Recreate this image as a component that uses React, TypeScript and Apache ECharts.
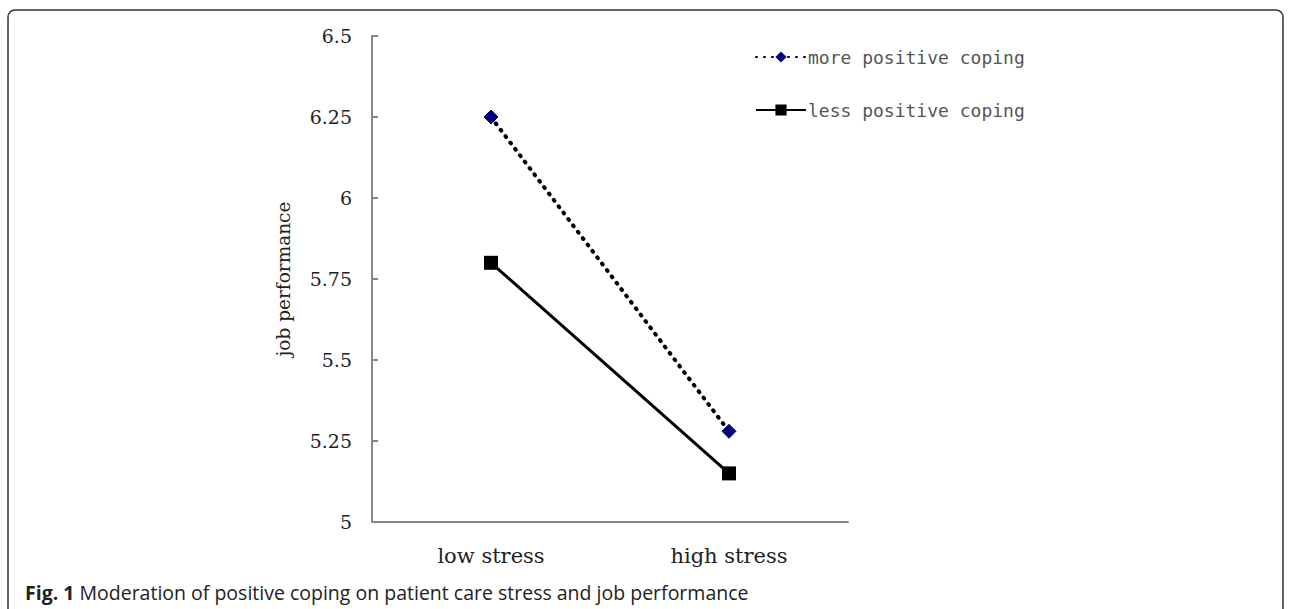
import React, { useEffect, useRef } from "react";
import * as echarts from "echarts";

const categories = ["low stress", "high stress"];
const morePositive = [6.25, 5.28];
const lessPositive = [5.8, 5.15];
const seriesNames = ["more positive coping", "less positive coping"];
const yAxisName = "job performance";
const captionBold = "Fig. 1";
const captionText = " Moderation of positive coping on patient care stress and job performance";

export default function App() {
  const ref = useRef<HTMLDivElement>(null);
  useEffect(() => {
    document.body.style.margin = "0";
    const chart = echarts.init(ref.current!, null, { renderer: "svg" });
    const serif = "DejaVu Serif";
    chart.setOption({
      animation: false,
      backgroundColor: "#ffffff",
      grid: { left: 372, top: 36, right: 442, bottom: 87, containLabel: false },
      legend: {
        orient: "vertical",
        left: 750,
        top: 42,
        itemWidth: 50,
        itemHeight: 14,
        itemGap: 33,
        data: seriesNames,
        textStyle: { fontFamily: "DejaVu Sans Mono", fontSize: 18, color: "#555", lineHeight: 20, padding: [0, 0, 0, -3] },
      },
      xAxis: {
        type: "category",
        data: categories,
        boundaryGap: true,
        axisLine: { lineStyle: { color: "#888", width: 2 } },
        axisTick: { inside: true, length: 6, lineStyle: { color: "#888", width: 2 } },
        axisLabel: { fontFamily: serif, fontSize: 21, color: "#222", margin: 23 },
        splitLine: { show: false },
      },
      yAxis: {
        type: "value",
        min: 5,
        max: 6.5,
        interval: 0.25,
        name: yAxisName,
        nameLocation: "middle",
        nameRotate: 90,
        nameGap: 79,
        nameTextStyle: { fontFamily: serif, fontSize: 18.5, color: "#222" },
        axisLine: { show: true, lineStyle: { color: "#888", width: 2 } },
        axisTick: { show: true, inside: true, length: 6, lineStyle: { color: "#888", width: 2 } },
        axisLabel: { fontFamily: serif, fontSize: 19, color: "#222", margin: 20 },
        splitLine: { show: false },
      },
      series: [
        {
          name: seriesNames[0],
          type: "line",
          data: morePositive,
          symbol: "diamond",
          symbolSize: 14,
          itemStyle: { color: "#00007a", borderColor: "#00007a" },
          lineStyle: { color: "#000", width: 4, type: [1, 7], cap: "round" },
          z: 3,
        },
        {
          name: seriesNames[1],
          type: "line",
          data: lessPositive,
          symbol: "rect",
          symbolSize: 14,
          itemStyle: { color: "#000" },
          lineStyle: { color: "#000", width: 3 },
          z: 2,
        },
      ],
      graphic: [
        {
          type: "rect",
          shape: { x: 8, y: 10, width: 1275, height: 640, r: [7, 7, 0, 0] },
          style: { fill: "none", stroke: "#333", lineWidth: 1.5 },
          silent: true,
        },
        {
          type: "text",
          left: 25,
          top: 582,
          style: {
            text: "{b|" + captionBold + "}{n|" + captionText + "}",
            rich: {
              b: { fontFamily: "Open Sans", fontWeight: "bold", fontSize: 19.5, fill: "#222" },
              n: { fontFamily: "Open Sans", fontSize: 19.5, fill: "#222" },
            },
          },
        },
      ],
    });
    return () => chart.dispose();
  }, []);
  return <div ref={ref} style={{ position: "absolute", left: 0, top: 0, width: 1290, height: 609 }} />;
}
